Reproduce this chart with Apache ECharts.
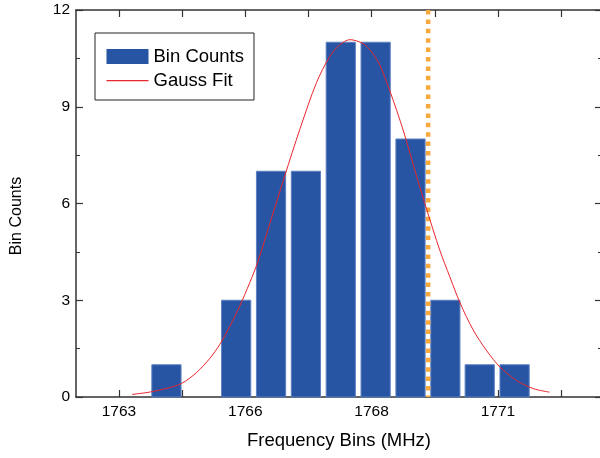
<!DOCTYPE html>
<html>
<head>
<meta charset="utf-8">
<script src="https://cdn.jsdelivr.net/npm/echarts@6/dist/echarts.min.js"></script>
<style>
html,body{margin:0;padding:0;background:#fff;}
#chart{width:600px;height:458px;}
</style>
</head>
<body>
<div id="chart"></div>
<script>
// ---- data ----
var binCenters = [1763.94, 1764.63, 1765.32, 1766.01, 1766.70, 1767.39, 1768.08, 1768.77, 1769.46, 1770.14, 1770.83];
var binCounts  = [1, 0, 3, 7, 7, 11, 11, 8, 3, 1, 1];

var fitX = [1763.26, 1763.60, 1763.95, 1764.24, 1764.53, 1764.80, 1765.00, 1765.19, 1765.39, 1765.59,
            1765.75, 1766.02, 1766.28, 1766.58, 1766.91, 1767.17, 1767.37, 1767.57, 1767.83, 1768.00,
            1768.16, 1768.36, 1768.63, 1768.89, 1769.09, 1769.35, 1769.55, 1769.75, 1770.01, 1770.28,
            1770.54, 1770.87, 1771.20, 1771.52];
var fitY = [0.08, 0.15, 0.27, 0.42, 0.75, 1.20, 1.64, 2.18, 2.82, 3.55,
            4.20, 5.55, 6.85, 8.30, 9.75, 10.55, 10.92, 11.08, 10.96, 10.70,
            10.30, 9.50, 8.25, 6.85, 5.82, 4.55, 3.72, 2.92, 2.08, 1.43,
            0.93, 0.51, 0.26, 0.15];

var markerX = 1769.12;

var xTickValues = [1763, 1764.25, 1765.5, 1766.75, 1768, 1769.25, 1770.5, 1771.75];
var xLabelValues = [1763, 1765.5, 1768, 1770.5];
var xTickLabels = ['1763', '1766', '1768', '1771'];

var xMin = 1762.15, xMax = 1772.56;
var yMin = 0, yMax = 12, yStep = 3;

// ---- build ----
var FONT = '"Liberation Sans", Arial, Helvetica, sans-serif';
var AXIS_COLOR = '#333';
var barHalf = 0.289;

var barData = binCenters.map(function (c, i) { return [c, binCounts[i]]; });
var fitData = fitX.map(function (x, i) { return [x, fitY[i]]; });

function labelFor(v) {
  for (var i = 0; i < xLabelValues.length; i++) {
    if (Math.abs(v - xLabelValues[i]) < 1e-6) return xTickLabels[i];
  }
  return '';
}

var chart = echarts.init(document.getElementById('chart'), null, {renderer: 'canvas'});

var xCommon = {
  type: 'value', min: xMin, max: xMax,
  axisLine: {show: true, onZero: false, lineStyle: {color: AXIS_COLOR, width: 1.5}},
  axisTick: {show: true, inside: true, length: 7, customValues: xTickValues, lineStyle: {color: AXIS_COLOR, width: 1.2}},
  splitLine: {show: false}
};
var yCommon = {
  type: 'value', min: yMin, max: yMax, interval: yStep,
  axisLine: {show: true, onZero: false, lineStyle: {color: AXIS_COLOR, width: 1.5}},
  axisTick: {show: true, inside: true, length: 7, lineStyle: {color: AXIS_COLOR, width: 1.2}},
  minorTick: {show: true, splitNumber: 2, length: 4, lineStyle: {color: AXIS_COLOR, width: 1}},
  splitLine: {show: false}
};

var lineIcon = 'path://M0,0 L0,0 M0,7 L42,7 L42,8.2 L0,8.2 Z M42,15 L42,15';

var option = {
  animation: false,
  backgroundColor: '#fff',
  textStyle: {fontFamily: FONT},
  grid: {left: 76, top: 10, right: -2, bottom: 61, containLabel: false, outerBoundsMode: 'none'},
  legend: {
    orient: 'vertical', left: 95, top: 33,
    padding: [14, 10, 10, 11.5],
    itemGap: 5, itemWidth: 42, itemHeight: 15,
    borderColor: '#222', borderWidth: 1,
    textStyle: {fontSize: 18.5, color: '#000', fontFamily: FONT},
    data: [{name: 'Bin Counts', icon: 'rect'}, {name: 'Gauss Fit', icon: lineIcon}]
  },
  xAxis: [
    Object.assign({}, xCommon, {
      position: 'bottom',
      name: 'Frequency Bins (MHz)', nameLocation: 'middle', nameGap: 34,
      nameTextStyle: {fontSize: 18.5, color: '#000', fontFamily: FONT},
      axisLabel: {show: true, customValues: xLabelValues, formatter: labelFor, margin: 7,
                  fontSize: 15.5, color: '#000', fontFamily: FONT}
    }),
    Object.assign({}, xCommon, {position: 'top', axisLabel: {show: false}})
  ],
  yAxis: [
    Object.assign({}, yCommon, {
      position: 'left',
      name: 'Bin Counts', nameLocation: 'middle', nameGap: 51,
      nameTextStyle: {fontSize: 16, color: '#000', fontFamily: FONT, padding: [0, 25, 0, 0]},
      axisLabel: {show: true, margin: 6, fontSize: 15.5, color: '#000', fontFamily: FONT}
    }),
    Object.assign({}, yCommon, {position: 'right', axisLabel: {show: false}})
  ],
  series: [
    {
      name: 'Bin Counts', type: 'custom', xAxisIndex: 0, yAxisIndex: 0,
      itemStyle: {color: '#2755A4'},
      data: barData,
      renderItem: function (params, api) {
        var c = api.value(0), v = api.value(1);
        if (!v) return null;
        var p0 = api.coord([c - barHalf, v]);
        var p1 = api.coord([c + barHalf, 0]);
        return {
          type: 'rect',
          shape: {x: p0[0], y: p0[1], width: p1[0] - p0[0], height: p1[1] - p0[1]},
          style: {fill: '#2755A4', stroke: '#5d80c2', lineWidth: 1}
        };
      },
      z: 2
    },
    {
      name: 'Marker', type: 'line', xAxisIndex: 0, yAxisIndex: 0,
      data: [[markerX, yMax], [markerX, yMin]],
      symbol: 'none',
      lineStyle: {color: '#FBA93C', width: 4.5, type: [4.5, 4.9], cap: 'butt'},
      z: 3, silent: true
    },
    {
      name: 'Gauss Fit', type: 'line', xAxisIndex: 0, yAxisIndex: 0,
      data: fitData,
      symbol: 'none', showSymbol: false, smooth: 0.3,
      itemStyle: {color: '#E8262C'},
      lineStyle: {color: '#E8262C', width: 1},
      z: 4
    }
  ]
};
chart.setOption(option);
</script>
</body>
</html>
